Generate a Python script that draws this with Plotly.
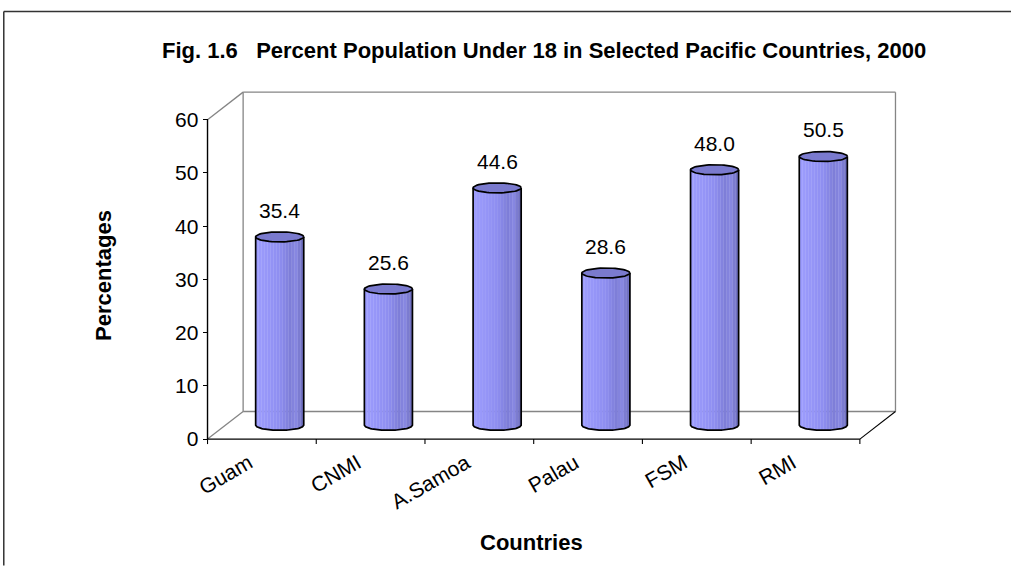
import numpy as np
import plotly.graph_objects as go

countries = ["Guam", "CNMI", "A.Samoa", "Palau", "FSM", "RMI"]
percent_under_18 = [35.4, 25.6, 44.6, 28.6, 48.0, 50.5]
y_tick_values = [0, 10, 20, 30, 40, 50, 60]

TITLE = "Fig. 1.6   Percent Population Under 18 in Selected Pacific Countries, 2000"
X_TITLE = "Countries"
Y_TITLE = "Percentages"

W, H = 1011, 566
FONT = "Arial, Liberation Sans, sans-serif"

# 3-D box geometry, in axis units
DX, DY = 0.3275, 5.18      # depth offset of the back wall
Y_MAX = 60
R = 0.221                  # cylinder radius (category units)
RY = 0.94                  # half-height of the elliptical caps (value units)
N_STRIPS = 16
LABEL_SHIFT = -0.12        # category labels sit a little left of the slot centre

n = len(countries)
x_min, x_max = -0.56, n - 0.5 + DX + 0.06
y_min, y_max = -1.3, Y_MAX + DY + 0.4

# pixel placement of the front axes
X0_PX, PX_PER_CAT = 207.7, 108.7
Y0_PX, PX_PER_UNIT = 439.3, 5.333
m_left = X0_PX - (-0.5 - x_min) * PX_PER_CAT
m_right = W - (m_left + (x_max - x_min) * PX_PER_CAT)
m_bottom = H - (Y0_PX - y_min * PX_PER_UNIT)
m_top = Y0_PX - y_max * PX_PER_UNIT
plot_w = W - m_left - m_right
plot_h = H - m_top - m_bottom


def paper_x(px):
    return (px - m_left) / plot_w


def paper_y(py):
    return (H - m_bottom - py) / plot_h


idx = np.arange(n)
cx_all = idx + DX / 2
base = DY / 2


def lower_arc(cx, h, xs):
    return h - RY * np.sqrt(np.clip(1 - ((xs - cx) / R) ** 2, 0, 1))


# body shading across the cylinder, left (lit) to right (shadow)
stops = [(0.0, (158, 158, 255)), (0.5, (142, 142, 240)), (0.72, (126, 126, 216)),
         (0.84, (136, 136, 226)), (1.0, (108, 108, 186))]


def shade(f):
    for (f0, c0), (f1, c1) in zip(stops[:-1], stops[1:]):
        if f0 <= f <= f1:
            t = (f - f0) / (f1 - f0)
            return "rgb(%d,%d,%d)" % tuple(round(a + (b - a) * t) for a, b in zip(c0, c1))
    return "rgb(%d,%d,%d)" % stops[-1][1]


fig = go.Figure()

for k in range(N_STRIPS):
    f0, f1 = k / N_STRIPS, (k + 1) / N_STRIPS
    xs_all, ys_all = [], []
    for cx, v in zip(cx_all, percent_under_18):
        top = base + v
        xs = cx - R + 2 * R * np.linspace(f0, f1, 6)
        px = np.concatenate([xs, xs[::-1]])
        py = np.concatenate([lower_arc(cx, base, xs), lower_arc(cx, top, xs[::-1])])
        xs_all += list(px) + [None]
        ys_all += list(py) + [None]
    col = shade((f0 + f1) / 2)
    fig.add_trace(go.Scatter(x=xs_all, y=ys_all, mode="lines", fill="toself",
                             fillcolor=col, line=dict(width=0.6, color=col),
                             hoverinfo="skip", showlegend=False))

# cylinder outlines: left side, bottom arc, right side
ox, oy = [], []
for cx, v in zip(cx_all, percent_under_18):
    top = base + v
    xs = np.linspace(cx - R, cx + R, 40)
    ox += [cx - R] + list(xs) + [cx + R, None]
    oy += [top] + list(lower_arc(cx, base, xs)) + [top, None]
fig.add_trace(go.Scatter(x=ox, y=oy, mode="lines", line=dict(color="black", width=1.7),
                         hoverinfo="skip", showlegend=False))

# elliptical caps
tx, ty = [], []
t = np.linspace(0, 2 * np.pi, 60)
for cx, v in zip(cx_all, percent_under_18):
    top = base + v
    tx += list(cx + R * np.cos(t)) + [None]
    ty += list(top + RY * np.sin(t)) + [None]
fig.add_trace(go.Scatter(x=tx, y=ty, mode="lines", fill="toself",
                         fillcolor="rgb(122,122,206)",
                         line=dict(color="black", width=1.7),
                         hoverinfo="skip", showlegend=False))

# value labels above the cylinders
annotations = []
for cx, v in zip(cx_all, percent_under_18):
    annotations.append(dict(x=cx, y=base + v + RY, xref="x", yref="y",
                            text=f"{v:.1f}", showarrow=False,
                            xanchor="center", yanchor="bottom", yshift=8,
                            font=dict(size=21, color="black", family=FONT)))

# axis titles and chart title
annotations.append(dict(x=paper_x(103), y=paper_y(275), xref="paper", yref="paper",
                        text=f"<b>{Y_TITLE}</b>", textangle=-90, showarrow=False,
                        xanchor="center", yanchor="middle",
                        font=dict(size=22, color="black", family=FONT)))
annotations.append(dict(x=paper_x(532), y=paper_y(543), xref="paper", yref="paper",
                        text=f"<b>{X_TITLE}</b>", showarrow=False,
                        xanchor="center", yanchor="middle",
                        font=dict(size=22, color="black", family=FONT)))
annotations.append(dict(x=paper_x(544), y=paper_y(50), xref="paper", yref="paper",
                        text=f"<b>{TITLE}</b>", showarrow=False,
                        xanchor="center", yanchor="middle",
                        font=dict(size=22, color="black", family=FONT)))

# 3-D frame: back wall, floor and front axes
GREY = "#858585"
xl, xr = -0.5, n - 0.5


def seg(x0, y0, x1, y1, color, width=1.3):
    return dict(type="line", xref="x", yref="y", x0=x0, y0=y0, x1=x1, y1=y1,
                line=dict(color=color, width=width), layer="below")


shapes = [
    seg(xl + DX, DY, xl + DX, Y_MAX + DY, GREY),
    seg(xl + DX, Y_MAX + DY, xr + DX, Y_MAX + DY, GREY),
    seg(xr + DX, DY, xr + DX, Y_MAX + DY, GREY),
    seg(xl + DX, DY, xr + DX, DY, GREY),
    seg(xl, Y_MAX, xl + DX, Y_MAX + DY, GREY),
    seg(xl, 0, xl + DX, DY, GREY),
    seg(xr, 0, xr + DX, DY, "black", 1.1),
    seg(xl, 0, xl, Y_MAX, "black", 1.4),
    seg(xl, 0, xr, 0, "black", 1.4),
]
for b in np.arange(n + 1) - 0.5:
    shapes.append(seg(b, 0, b, -5 / PX_PER_UNIT, "black", 1.1))

# outer border of the figure (top and left edges)
shapes.append(dict(type="line", xref="paper", yref="paper",
                   x0=paper_x(4), y0=paper_y(11), x1=paper_x(W), y1=paper_y(11),
                   line=dict(color="#333333", width=1.5)))
shapes.append(dict(type="line", xref="paper", yref="paper",
                   x0=paper_x(4), y0=paper_y(11), x1=paper_x(4), y1=paper_y(H),
                   line=dict(color="#333333", width=1.5)))

fig.update_layout(
    width=W, height=H,
    margin=dict(l=m_left, r=m_right, t=m_top, b=m_bottom, autoexpand=False),
    paper_bgcolor="white", plot_bgcolor="white",
    font=dict(family=FONT, color="black"),
    showlegend=False,
    annotations=annotations,
    shapes=shapes,
    xaxis=dict(range=[x_min, x_max], showgrid=False, zeroline=False, showline=False,
               tickmode="array", tickvals=list(idx + LABEL_SHIFT), ticktext=countries,
               tickangle=-30, ticks="", tickfont=dict(size=21, family=FONT, color="black"),
               fixedrange=True),
    yaxis=dict(range=[y_min, y_max], showgrid=False, zeroline=False, showline=False,
               anchor="free", position=(-0.5 - x_min) / (x_max - x_min),
               tickmode="array", tickvals=y_tick_values, ticks="outside", ticklen=5,
               tickwidth=1.1, tickcolor="black",
               tickfont=dict(size=21, family=FONT, color="black"), fixedrange=True),
)

fig.write_html("out.html")
